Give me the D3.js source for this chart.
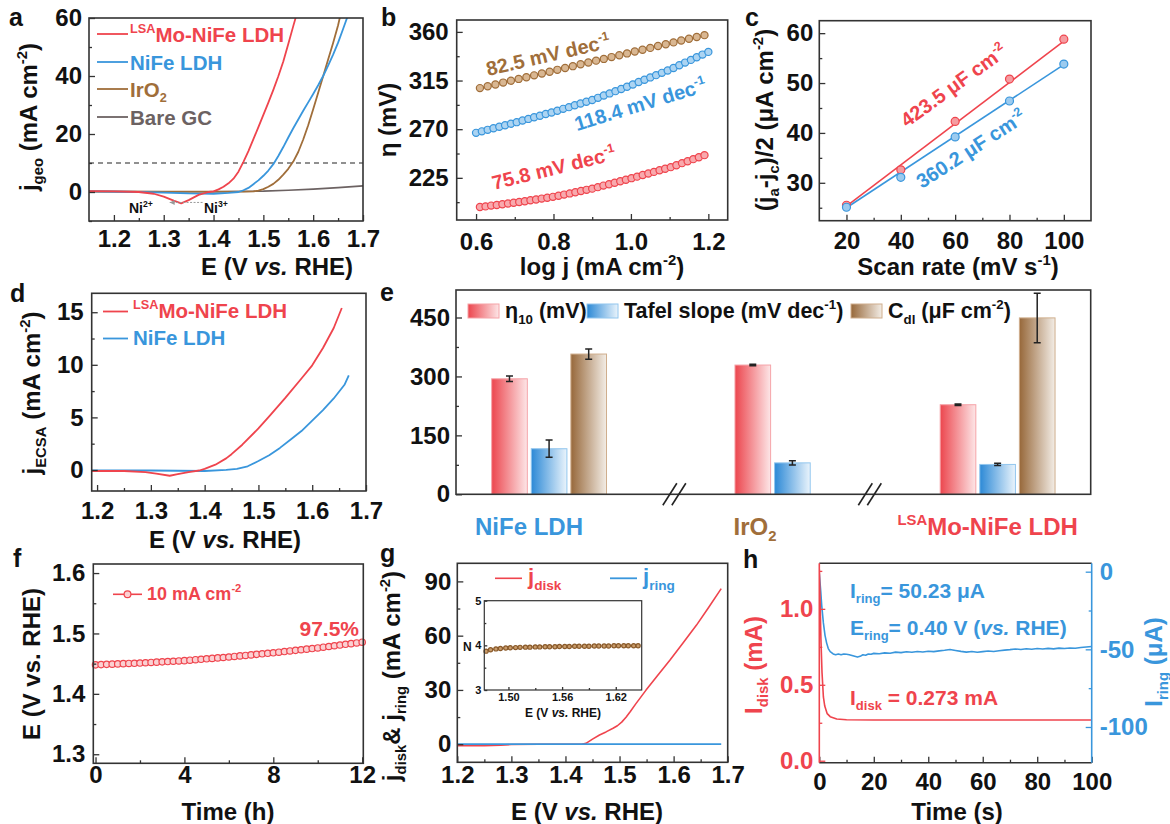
<!DOCTYPE html>
<html><head><meta charset="utf-8">
<script src="https://cdn.jsdelivr.net/npm/d3@7"></script>
<style>
body{margin:0;background:#fff}
svg{font-family:"Liberation Sans",Arial,sans-serif;font-weight:bold}
</style></head>
<body><svg id="fig" width="1170" height="824"></svg>
<script>
// ---------- data ----------
// a: LSV, j_geo vs E
var aMo = [[1.15,0.3],[1.20,0.2],[1.25,0.0],[1.28,-0.6],[1.30,-1.6],[1.32,-3.0],[1.335,-3.9],[1.35,-2.8],[1.37,-1.0],[1.39,0.0],[1.40,0.2],[1.41,0.9],[1.42,1.8],[1.43,3.0],[1.44,4.6],[1.45,7.0],[1.46,10.4],[1.47,14.1],[1.48,18.2],[1.49,22.4],[1.50,26.6],[1.51,30.8],[1.52,35.2],[1.53,39.9],[1.54,45.0],[1.55,51.0],[1.56,57.2],[1.568,62]]
var aNi = [[1.15,0.2],[1.25,0.0],[1.30,-0.2],[1.35,-0.5],[1.40,-0.6],[1.43,-0.3],[1.45,0.0],[1.46,0.6],[1.47,1.4],[1.48,2.7],[1.49,4.0],[1.50,5.6],[1.51,7.4],[1.52,9.6],[1.53,12.4],[1.54,15.5],[1.55,18.8],[1.56,22.0],[1.57,25.0],[1.58,28.0],[1.59,30.9],[1.60,33.8],[1.61,36.8],[1.62,40.0],[1.63,43.6],[1.64,47.4],[1.65,51.5],[1.66,56.2],[1.67,61],[1.673,62]]
var aIr = [[1.15,0.1],[1.30,0.1],[1.40,0.1],[1.46,0.1],[1.48,0.2],[1.49,0.5],[1.50,1.0],[1.51,1.8],[1.52,2.8],[1.53,4.2],[1.54,6.0],[1.55,8.0],[1.56,10.5],[1.57,13.8],[1.58,18.1],[1.59,23.0],[1.60,28.5],[1.61,34.2],[1.62,39.9],[1.63,45.7],[1.64,51.4],[1.65,57.5],[1.656,62]]
var aGC = [[1.15,0.2],[1.30,0.1],[1.40,0.1],[1.50,0.3],[1.55,0.6],[1.60,1.0],[1.65,1.5],[1.70,2.1]]
var aRef = 10

// b: Tafel plots (log j, eta)
var bIr = [[0.61,308.0],[0.63,309.7],[0.65,311.4],[0.67,313.1],[0.69,314.8],[0.71,316.5],[0.73,318.1],[0.75,319.8],[0.77,321.5],[0.79,323.2],[0.81,324.9],[0.83,326.6],[0.85,328.3],[0.87,330.0],[0.89,331.7],[0.91,333.4],[0.93,335.0],[0.95,336.7],[0.97,338.4],[0.99,340.1],[1.01,341.8],[1.03,343.5],[1.05,345.2],[1.07,346.9],[1.09,348.6],[1.11,350.3],[1.13,352.0],[1.15,353.6],[1.17,355.3],[1.19,357.0]]
var bNi = [[0.600,266.6],[0.615,268.0],[0.630,269.4],[0.645,270.8],[0.660,272.2],[0.675,273.6],[0.690,275.0],[0.705,276.5],[0.720,278.0],[0.735,279.5],[0.750,281.0],[0.765,282.5],[0.780,284.0],[0.795,285.5],[0.810,287.1],[0.825,288.8],[0.840,290.4],[0.855,292.1],[0.870,293.7],[0.885,295.4],[0.900,297.0],[0.915,299.0],[0.930,301.1],[0.945,303.1],[0.960,305.2],[0.975,307.2],[0.990,309.3],[1.005,311.4],[1.020,313.6],[1.035,315.7],[1.050,317.9],[1.065,320.0],[1.080,322.1],[1.095,324.3],[1.110,326.6],[1.125,329.1],[1.140,331.6],[1.155,334.1],[1.170,336.5],[1.185,339.0],[1.200,341.5]]
var bMo = [[0.610,198.0],[0.6245,198.6],[0.639,199.3],[0.6535,199.9],[0.668,200.6],[0.6825,201.2],[0.697,201.9],[0.7115,202.6],[0.726,203.4],[0.7405,204.2],[0.755,205.0],[0.7695,205.8],[0.784,206.6],[0.7985,207.4],[0.813,208.4],[0.8275,209.5],[0.842,210.6],[0.8565,211.7],[0.871,212.8],[0.8855,213.9],[0.900,215.0],[0.9145,216.4],[0.929,217.8],[0.9435,219.1],[0.958,220.5],[0.9725,221.9],[0.987,223.3],[1.0015,224.7],[1.016,226.1],[1.0305,227.6],[1.045,229.0],[1.0595,230.5],[1.074,232.0],[1.0885,233.4],[1.103,234.9],[1.1175,236.7],[1.132,238.6],[1.1465,240.4],[1.161,242.3],[1.1755,244.1],[1.190,246.0]]

// c: double-layer capacitance
var cRate = [20, 40, 60, 80, 100]
var cMo = [25.5, 32.6, 42.3, 50.8, 58.8]
var cNi = [25.1, 31.1, 39.2, 46.4, 53.8]
var cMoFit = [[20,25.3],[100,58.4]]
var cNiFit = [[20,25.0],[100,53.7]]

// d: ECSA-normalised LSV
var dMo = [[1.19,-0.1],[1.25,-0.1],[1.29,-0.2],[1.31,-0.35],[1.335,-0.55],[1.35,-0.4],[1.37,-0.2],[1.39,-0.05],[1.40,0.1],[1.42,0.5],[1.44,1.1],[1.45,1.5],[1.47,2.4],[1.50,3.95],[1.52,5.1],[1.55,6.85],[1.58,8.7],[1.60,9.95],[1.62,11.6],[1.64,13.5],[1.655,15.4]]
var dNi = [[1.19,-0.05],[1.30,-0.05],[1.40,-0.1],[1.44,0],[1.46,0.1],[1.48,0.35],[1.50,0.85],[1.52,1.4],[1.54,2.1],[1.56,2.9],[1.58,3.7],[1.60,4.7],[1.62,5.7],[1.64,6.8],[1.66,8.1],[1.668,9.0]]

// e: summary bars
var eGroups = ['NiFe LDH', 'IrO2', 'LSAMo-NiFe LDH']
var eEta = [294, 329, 228], eEtaErr = [7, 2, 2]
var eTafel = [116, 80, 76], eTafelErr = [22, 5.5, 3]
var eCdl = [357, null, 449], eCdlErr = [13, null, 63]

// f: chronopotentiometry (h, V)
var fE = [[0,1.448],[0.25,1.4484],[0.5,1.4488],[0.75,1.4492],[1,1.4496],[1.25,1.45],[1.5,1.4503],[1.75,1.4506],[2,1.451],[2.25,1.4515],[2.5,1.452],[2.75,1.4525],[3,1.453],[3.25,1.4535],[3.5,1.454],[3.75,1.4545],[4,1.455],[4.25,1.4557],[4.5,1.4565],[4.75,1.4572],[5,1.458],[5.25,1.4587],[5.5,1.4595],[5.75,1.4602],[6,1.461],[6.25,1.4619],[6.5,1.4628],[6.75,1.4636],[7,1.4645],[7.25,1.4654],[7.5,1.4663],[7.75,1.4671],[8,1.468],[8.25,1.469],[8.5,1.47],[8.75,1.471],[9,1.472],[9.25,1.473],[9.5,1.474],[9.75,1.475],[10,1.476],[10.25,1.4772],[10.5,1.4784],[10.75,1.4796],[11,1.4808],[11.25,1.482],[11.5,1.4831],[11.75,1.4843],[12,1.4855]]

// g: RRDE
var gDisk = [[1.20,-0.8],[1.25,-0.8],[1.28,-0.5],[1.30,-0.2],[1.35,0],[1.43,0],[1.438,0.5],[1.45,2.8],[1.463,5.1],[1.475,6.8],[1.488,8.8],[1.496,10.2],[1.504,12.2],[1.512,14.9],[1.520,18.1],[1.530,22.3],[1.540,26.3],[1.549,29.9],[1.57,37.9],[1.593,46.4],[1.617,55.8],[1.642,65.7],[1.665,75.7],[1.688,86]]
var gRing = [[1.20,0],[1.40,0],[1.60,0],[1.688,0]]
var gN = [[1.475,3.87],[1.480,3.90],[1.486,3.92],[1.491,3.93],[1.497,3.94],[1.502,3.945],[1.508,3.95],[1.513,3.955],[1.519,3.96],[1.524,3.96],[1.530,3.965],[1.535,3.965],[1.541,3.97],[1.546,3.97],[1.552,3.97],[1.557,3.975],[1.563,3.975],[1.568,3.975],[1.574,3.98],[1.579,3.98],[1.585,3.98],[1.590,3.98],[1.596,3.985],[1.601,3.985],[1.607,3.985],[1.612,3.985],[1.618,3.99],[1.623,3.99],[1.629,3.99],[1.634,3.99],[1.640,3.99],[1.645,3.99]]

// h: RRDE chronoamperometry
var hDisk = [[0,1.26],[0.3,1.05],[0.6,0.8],[1.0,0.58],[1.5,0.42],[2.0,0.36],[2.9,0.31],[4,0.29],[6.4,0.275],[10,0.27],[20,0.268],[40,0.268],[60,0.268],[80,0.268],[100,0.268]]
var hRing = [[0,-1],[0.5,-12],[0.9,-22],[1.5,-33],[2.1,-41],[2.7,-46],[3.3,-49.5],[4,-51.5],[5.1,-53],[6,-53.5],[7,-53],[8,-53.5],[9,-53],[10,-53.2],[11,-53.5],[12,-54],[13,-54.5],[14,-55],[15,-54.5],[16,-53.5],[17,-53.8],[18,-53],[19,-53.2],[20,-52.6],[22,-52.8],[24,-52.3],[26,-52.5],[28,-51.8],[30,-52.1],[32,-51.6],[34,-51.9],[36,-51.4],[38,-51.7],[40,-51.2],[42,-51.5],[44,-51],[46,-50.6],[48,-50.1],[50,-50.7],[52,-51.3],[54,-51.8],[56,-51.4],[58,-51.9],[60,-51.5],[62,-51.1],[64,-51.4],[66,-50.9],[68,-50.5],[70,-50.2],[72,-49.8],[74,-50.1],[76,-49.6],[78,-49.9],[80,-49.5],[82,-49.8],[84,-49.4],[86,-49.7],[88,-49.2],[90,-49.5],[92,-49.1],[94,-49.3],[96,-48.8],[98,-48.5],[100,-48.2]]

// ---------- drawing ----------
var RED = '#ef444d', BLUE = '#3996dc', BROWN = '#a06e3a', GREY = '#6c6262', INK = '#111'
var FT = 24, FA = 24   // tick font, axis title font

var svg = d3.select('#fig')
var defs = svg.append('defs')

function grad(id, c0, c1){
  var lg = defs.append('linearGradient').attr('id', id)
  lg.append('stop').attr('offset', '0%').attr('stop-color', c0)
  lg.append('stop').attr('offset', '100%').attr('stop-color', c1)
}
grad('gRed', '#ec464e', '#fde6e7')
grad('gBlue', '#2c89d6', '#eaf4fc')
grad('gBrown', '#97683a', '#f3ede6')

function clip(id, B){
  defs.append('clipPath').attr('id', id).append('rect')
    .attr('x', B.l).attr('y', B.t).attr('width', B.r - B.l).attr('height', B.b - B.t)
}

function frame(B, w){
  svg.append('rect').attr('x', B.l).attr('y', B.t).attr('width', B.r - B.l).attr('height', B.b - B.t)
    .attr('fill', 'none').attr('stroke', '#333').attr('stroke-width', w || 1.6)
}

function tickAxis(gen, tr, ticks, size, pad, fmt, fs, color){
  var a = svg.append('g').attr('transform', tr)
    .call(gen.tickValues(ticks).tickSize(size).tickPadding(pad).tickFormat(fmt))
  a.attr('font-family', null).attr('font-size', fs)
  a.select('.domain').remove()
  a.selectAll('line').attr('stroke', color || '#333').attr('stroke-width', 1.3)
  a.selectAll('text').attr('fill', color || INK)
  return a
}
var none = function(){ return '' }
function xAxis(x, B, major, minor, pad, fmt, o){
  o = o || {}
  var tr = 'translate(0,' + B.b + ')'
  tickAxis(d3.axisBottom(x), tr, minor, -(o.minor || 3), 0, none, FT)
  return tickAxis(d3.axisBottom(x), tr, major, -(o.major || 6), pad, fmt, o.fs || FT)
}
function yAxis(y, B, major, minor, pad, fmt, o){
  o = o || {}
  var tr = 'translate(' + B.l + ',0)'
  tickAxis(d3.axisLeft(y), tr, minor, -(o.minor || 3), 0, none, FT, o.color)
  return tickAxis(d3.axisLeft(y), tr, major, -(o.major || 6), pad, fmt, o.fs || FT, o.color)
}

function rich(sel, parts, fs){
  var off = 0
  parts.forEach(function(p){
    if (typeof p === 'string') p = {t: p}
    var target = p.sup ? -0.42 * fs : p.sub ? 0.26 * fs : 0
    var ts = sel.append('tspan').attr('dy', target - off).text(p.t)
    if (p.sup || p.sub) ts.attr('font-size', 0.62 * fs)
    if (p.i) ts.attr('font-style', 'italic')
    off = target
  })
  return sel
}
function label(x, y, parts, o){
  o = o || {}
  var fs = o.fs || FA
  var t = svg.append('text').attr('font-size', fs).attr('fill', o.fill || INK)
    .attr('text-anchor', o.anchor || 'start')
    .attr('transform', 'translate(' + x + ',' + y + ')' + (o.rot ? ' rotate(' + o.rot + ')' : ''))
  return rich(t, parts, fs)
}

function curve(x, y, data, color, w, clipId){
  return svg.append('path').datum(data)
    .attr('d', d3.line().x(function(d){ return x(d[0]) }).y(function(d){ return y(d[1]) }))
    .attr('fill', 'none').attr('stroke', color).attr('stroke-width', w || 1.6)
    .attr('stroke-linejoin', 'round')
    .attr('clip-path', clipId ? 'url(#' + clipId + ')' : null)
}
function dots(x, y, data, stroke, fill, r){
  svg.append('g').selectAll('circle').data(data).join('circle')
    .attr('cx', function(d){ return x(d[0]) }).attr('cy', function(d){ return y(d[1]) })
    .attr('r', r || 3.5).attr('fill', fill).attr('stroke', stroke).attr('stroke-width', 1.2)
}

var f1 = d3.format('.1f'), f2 = d3.format('.2f'), fi = function(d){ return String(d) }
var vsRHE = ['E (V ', {t: 'vs.', i: 1}, ' RHE)']

// panel letters
;[['a',9,26],['b',381,26],['c',745,26],['d',10,302],['e',380,301],['f',13,567],['g',380,562],['h',743,568]]
  .forEach(function(p){ svg.append('text').attr('x', p[1]).attr('y', p[2]).attr('font-size', 25).attr('fill', INK).text(p[0]) })

// ===== a =====
var A = {l: 89, t: 18, r: 363, b: 221}
clip('clipA', A)
var ax = d3.scaleLinear().domain([1.15, 1.7]).range([A.l, A.r])
var ay = d3.scaleLinear().domain([-10, 60]).range([A.b, A.t])
svg.append('line').attr('x1', ax(1.15)).attr('x2', ax(1.7)).attr('y1', ay(aRef)).attr('y2', ay(aRef))
  .attr('stroke', '#222').attr('stroke-width', 1.2).attr('stroke-dasharray', '5,4')
curve(ax, ay, aGC, GREY, 1.6, 'clipA')
curve(ax, ay, aIr, BROWN, 1.8, 'clipA')
curve(ax, ay, aNi, BLUE, 1.8, 'clipA')
curve(ax, ay, aMo, RED, 1.8, 'clipA')
// Ni2+ <- Ni3+ annotation
svg.append('line').attr('x1', ax(1.378)).attr('x2', ax(1.312)).attr('y1', ay(-3.6)).attr('y2', ay(-3.6))
  .attr('stroke', '#999').attr('stroke-width', 1).attr('stroke-dasharray', '2,1.5')
svg.append('path').attr('d', 'M' + ax(1.312) + ',' + ay(-3.6) + 'l5,-2.5v5z').attr('fill', '#999')
label(129, 213, ['Ni', {t: '2+', sup: 1}], {fs: 14})
label(204, 213, ['Ni', {t: '3+', sup: 1}], {fs: 14})
xAxis(ax, A, [1.2,1.3,1.4,1.5,1.6,1.7], [1.25,1.35,1.45,1.55,1.65], 9, f1)
yAxis(ay, A, [0,20,40,60], [-10,10,30,50], 7, fi)
frame(A)
var aLegend = [
  {parts: [{t: 'LSA', sup: 1}, 'Mo-NiFe LDH'], c: RED, y: 35},
  {parts: ['NiFe LDH'], c: BLUE, y: 63},
  {parts: ['IrO', {t: '2', sub: 1}], c: BROWN, y: 90},
  {parts: ['Bare GC'], c: GREY, y: 118}
]
aLegend.forEach(function(d){
  svg.append('line').attr('x1', 97).attr('x2', 128).attr('y1', d.y - 1).attr('y2', d.y - 1).attr('stroke', d.c).attr('stroke-width', 1.8)
  label(130, d.y + 7, d.parts, {fs: 20.5, fill: d.c})
})
label(201, 275, vsRHE)
label(37, 117, ['j', {t: 'geo', sub: 1}, ' (mA cm', {t: '-2', sup: 1}, ')'], {rot: -90, anchor: 'middle'})

// ===== b =====
var Bb = {l: 456.7, t: 20, r: 727.7, b: 220}
var bx = d3.scaleLinear().domain([0.55, 1.25]).range([Bb.l, Bb.r])
var by = d3.scaleLinear().domain([186, 371]).range([Bb.b, Bb.t])
;[[bIr, BROWN, '#d9b792'], [bNi, BLUE, '#acd4f2'], [bMo, RED, '#f8a9ad']].forEach(function(s){
  curve(bx, by, s[0], s[1], 1.6)
  dots(bx, by, s[0], s[1], s[2], 3.6)
})
label(488, 76, ['82.5 mV dec', {t: '-1', sup: 1}], {fs: 20, fill: BROWN, rot: -13})
label(577, 131, ['118.4 mV dec', {t: '-1', sup: 1}], {fs: 20, fill: BLUE, rot: -17})
label(494, 190, ['75.8 mV dec', {t: '-1', sup: 1}], {fs: 20, fill: RED, rot: -14})
xAxis(bx, Bb, [0.6,0.8,1.0,1.2], [0.7,0.9,1.1], 13, f1)
yAxis(by, Bb, [225,270,315,360], [202.5,247.5,292.5,337.5], 8, fi)
frame(Bb)
label(602, 275, ['log j (mA cm', {t: '-2', sup: 1}, ')'], {anchor: 'middle'})
label(396, 120, ['η (mV)'], {rot: -90, anchor: 'middle'})

// ===== c =====
var C = {l: 819.3, t: 20.7, r: 1091, b: 220.7}
var cx = d3.scaleLinear().domain([10, 110]).range([C.l, C.r])
var cy = d3.scaleLinear().domain([22.4, 62.5]).range([C.b, C.t])
curve(cx, cy, cMoFit, RED, 1.6)
curve(cx, cy, cNiFit, BLUE, 1.6)
dots(cx, cy, cRate.map(function(r, i){ return [r, cMo[i]] }), RED, '#f59ca1', 4)
dots(cx, cy, cRate.map(function(r, i){ return [r, cNi[i]] }), BLUE, '#9ccbef', 4)
label(907, 128, ['423.5 μF cm', {t: '-2', sup: 1}], {fs: 20, fill: RED, rot: -36})
label(922, 189, ['360.2 μF cm', {t: '-2', sup: 1}], {fs: 20, fill: BLUE, rot: -33})
xAxis(cx, C, [20,40,60,80,100], [30,50,70,90], 11, fi)
yAxis(cy, C, [30,40,50,60], [25,35,45,55], 6, fi)
frame(C)
label(958, 275, ['Scan rate (mV s', {t: '-1', sup: 1}, ')'], {anchor: 'middle'})
label(773, 120, ['(j', {t: 'a', sub: 1}, '-j', {t: 'c', sub: 1}, ')/2 (μA cm', {t: '-2', sup: 1}, ')'], {rot: -90, anchor: 'middle'})

// ===== d =====
var D = {l: 91.7, t: 293.3, r: 366, b: 491}
var dx = d3.scaleLinear().domain([1.19, 1.7]).range([D.l, D.r])
var dy = d3.scaleLinear().domain([-2, 16.8]).range([D.b, D.t])
curve(dx, dy, dNi, BLUE, 1.8)
curve(dx, dy, dMo, RED, 1.8)
xAxis(dx, D, [1.2,1.3,1.4,1.5,1.6,1.7], [1.25,1.35,1.45,1.55,1.65], 11, f1)
yAxis(dy, D, [0,5,10,15], [2.5,7.5,12.5], 8, fi)
frame(D)
svg.append('line').attr('x1', 103).attr('x2', 128).attr('y1', 311.5).attr('y2', 311.5).attr('stroke', RED).attr('stroke-width', 1.8)
label(133, 318, [{t: 'LSA', sup: 1}, 'Mo-NiFe LDH'], {fs: 20.5, fill: RED})
svg.append('line').attr('x1', 103).attr('x2', 128).attr('y1', 338.5).attr('y2', 338.5).attr('stroke', BLUE).attr('stroke-width', 1.8)
label(133, 345, ['NiFe LDH'], {fs: 20.5, fill: BLUE})
label(225, 548, vsRHE, {anchor: 'middle'})
label(40, 393, ['j', {t: 'ECSA', sub: 1}, ' (mA cm', {t: '-2', sup: 1}, ')'], {rot: -90, anchor: 'middle'})

// ===== e =====
var E = {l: 456, t: 290, r: 1090.7, b: 494.3}
var ex = d3.scaleLinear().domain([0, 3]).range([E.l, E.r])
var ey = d3.scaleLinear().domain([0, 520]).range([E.b, E.t])
var eCenter = {'NiFe LDH': 0.44, 'IrO2': 1.59, 'LSAMo-NiFe LDH': 2.56}
var eLabelAt = {'NiFe LDH': 0.345, 'IrO2': 1.413, 'LSAMo-NiFe LDH': 2.513}
var eInner = d3.scaleBand().domain(['eta', 'tafel', 'cdl']).range([-59.4, 59.4]).paddingInner(0.1).paddingOuter(0.05)
var eSeries = [
  {key: 'eta', v: eEta, err: eEtaErr, fill: 'url(#gRed)', stroke: '#f5a3a8'},
  {key: 'tafel', v: eTafel, err: eTafelErr, fill: 'url(#gBlue)', stroke: '#92c6ee'},
  {key: 'cdl', v: eCdl, err: eCdlErr, fill: 'url(#gBrown)', stroke: '#cfae8d'}
]
eSeries.forEach(function(s){
  eGroups.forEach(function(g, i){
    if (s.v[i] == null) return
    var x0 = ex(eCenter[g]) + eInner(s.key), w = eInner.bandwidth()
    svg.append('rect').attr('x', x0).attr('y', ey(s.v[i])).attr('width', w).attr('height', ey(0) - ey(s.v[i]))
      .attr('fill', s.fill).attr('stroke', s.stroke).attr('stroke-width', 1)
    var cxm = x0 + w / 2, lo = ey(s.v[i] - s.err[i]), hi = ey(s.v[i] + s.err[i])
    svg.append('path').attr('d', 'M' + (cxm - 3.5) + ',' + hi + 'h7M' + cxm + ',' + hi + 'V' + lo + 'M' + (cxm - 3.5) + ',' + lo + 'h7')
      .attr('stroke', '#222').attr('stroke-width', 1.5).attr('fill', 'none')
  })
})
yAxis(ey, E, [0,150,300,450], [75,225,375], 6, fi)
frame(E)
// axis breaks
;[1.032, 1.956].forEach(function(b){
  var xb = ex(b)
  ;[-4.5, 4.5].forEach(function(o){
    svg.append('line').attr('x1', xb + o - 7).attr('y1', E.b + 11).attr('x2', xb + o + 7).attr('y2', E.b - 11)
      .attr('stroke', '#222').attr('stroke-width', 1.6)
  })
})
var eLegend = [
  {x: 468, fill: 'url(#gRed)', stroke: '#f5a3a8', parts: ['η', {t: '10', sub: 1}, ' (mV)']},
  {x: 587, fill: 'url(#gBlue)', stroke: '#92c6ee', parts: ['Tafel slope (mV dec', {t: '-1', sup: 1}, ')']},
  {x: 851, fill: 'url(#gBrown)', stroke: '#cfae8d', parts: ['C', {t: 'dl', sub: 1}, ' (μF cm', {t: '-2', sup: 1}, ')']}
]
eLegend.forEach(function(d){
  svg.append('rect').attr('x', d.x).attr('y', 304).attr('width', 31).attr('height', 14).attr('fill', d.fill).attr('stroke', d.stroke)
  label(d.x + 37, 318, d.parts, {fs: 21.5})
})
label(ex(eLabelAt['NiFe LDH']), 535, ['NiFe LDH'], {anchor: 'middle', fill: BLUE})
label(ex(eLabelAt['IrO2']), 535, ['IrO', {t: '2', sub: 1}], {anchor: 'middle', fill: BROWN})
label(ex(eLabelAt['LSAMo-NiFe LDH']), 535, [{t: 'LSA', sup: 1}, 'Mo-NiFe LDH'], {anchor: 'middle', fill: RED})

// ===== f =====
var F = {l: 93.3, t: 564, r: 363.3, b: 763.3}
var fx = d3.scaleLinear().domain([-0.1, 12.05]).range([F.l, F.r])
var fy = d3.scaleLinear().domain([1.285, 1.615]).range([F.b, F.t])
curve(fx, fy, fE, RED, 1.5)
dots(fx, fy, fE, RED, '#fbd0d2', 3.2)
xAxis(fx, F, [0,4,8,12], [2,6,10], 3, fi)
yAxis(fy, F, [1.3,1.4,1.5,1.6], [1.35,1.45,1.55], 8, f1)
frame(F)
svg.append('line').attr('x1', 113).attr('x2', 142).attr('y1', 594.3).attr('y2', 594.3).attr('stroke', RED).attr('stroke-width', 1.6)
svg.append('circle').attr('cx', 127.5).attr('cy', 594.3).attr('r', 3.4).attr('fill', '#fbd0d2').attr('stroke', RED).attr('stroke-width', 1.2)
label(147, 600, ['10 mA cm', {t: '-2', sup: 1}], {fs: 18, fill: RED})
label(359, 636, ['97.5%'], {fs: 21, fill: RED, anchor: 'end'})
label(228, 820, ['Time (h)'], {anchor: 'middle'})
label(40, 664, ['E (V vs. RHE)'], {rot: -90, anchor: 'middle'})

// ===== g =====
var G = {l: 457.3, t: 563.3, r: 727.7, b: 762.3}
var gx = d3.scaleLinear().domain([1.2, 1.7]).range([G.l, G.r])
var gy = d3.scaleLinear().domain([-10, 100]).range([G.b, G.t])
curve(gx, gy, gDisk, RED, 1.6)
curve(gx, gy, gRing, BLUE, 1.8)
xAxis(gx, G, [1.2,1.3,1.4,1.5,1.6,1.7], [1.25,1.35,1.45,1.55,1.65], 4, f1)
yAxis(gy, G, [0,30,60,90], [15,45,75], 6, fi)
frame(G)
svg.append('line').attr('x1', 495).attr('x2', 522).attr('y1', 578.3).attr('y2', 578.3).attr('stroke', RED).attr('stroke-width', 1.6)
label(528, 584, ['j', {t: 'disk', sub: 1}], {fs: 22, fill: RED})
svg.append('line').attr('x1', 610).attr('x2', 637).attr('y1', 578.3).attr('y2', 578.3).attr('stroke', BLUE).attr('stroke-width', 1.8)
label(643, 584, ['j', {t: 'ring', sub: 1}], {fs: 22, fill: BLUE})
// inset: electron transfer number
var GI = {l: 484.3, t: 600.7, r: 641.7, b: 690}
var gix = d3.scaleLinear().domain([1.473, 1.649]).range([GI.l, GI.r])
var giy = d3.scaleLinear().domain([3, 5]).range([GI.b, GI.t])
svg.append('rect').attr('x', GI.l).attr('y', GI.t).attr('width', GI.r - GI.l).attr('height', GI.b - GI.t).attr('fill', '#fff')
curve(gix, giy, gN, BROWN, 1.2)
dots(gix, giy, gN, '#8a5a2a', '#c89c6c', 2.1)
xAxis(gix, GI, [1.50,1.56,1.62], [1.53,1.59], 3, f2, {fs: 11, major: 3, minor: 2})
yAxis(giy, GI, [3,4,5], [3.5,4.5], 3, fi, {fs: 11, major: 3, minor: 2})
frame(GI, 1.2)
label(463, 651, ['N'], {fs: 12})
label(563, 717, vsRHE, {fs: 12, anchor: 'middle'})
label(587, 820, vsRHE, {anchor: 'middle'})
label(400, 676, ['j', {t: 'disk', sub: 1}, '& j', {t: 'ring', sub: 1}, ' (mA cm', {t: '-2', sup: 1}, ')'], {rot: -90, anchor: 'middle'})

// ===== h =====
var H = {l: 819.3, t: 563.3, r: 1091.7, b: 762.7}
var hx = d3.scaleLinear().domain([0, 100]).range([H.l, H.r])
var hyL = d3.scaleLinear().domain([-0.013, 1.3]).range([H.b, H.t])
var hyR = d3.scaleLinear().domain([-123, 5.4]).range([H.b, H.t])
clip('clipH', H)
curve(hx, hyR, hRing, BLUE, 1.6, 'clipH')
curve(hx, hyL, hDisk, RED, 1.6, 'clipH')
xAxis(hx, H, [0,20,40,60,80,100], [10,30,50,70,90], 10, fi)
yAxis(hyL, H, [0,0.5,1.0], [0.25,0.75,1.25], 6, f1, {color: RED})
tickAxis(d3.axisRight(hyR), 'translate(' + H.r + ',0)', [-25,-75], -3, 0, none, FT, BLUE)
tickAxis(d3.axisRight(hyR), 'translate(' + H.r + ',0)', [0,-50,-100], -6, 8, fi, FT, BLUE)
svg.append('line').attr('x1', H.l).attr('x2', H.r).attr('y1', H.t).attr('y2', H.t).attr('stroke', '#333').attr('stroke-width', 1.6)
svg.append('line').attr('x1', H.l).attr('x2', H.r).attr('y1', H.b).attr('y2', H.b).attr('stroke', '#333').attr('stroke-width', 1.6)
svg.append('line').attr('x1', H.l).attr('x2', H.l).attr('y1', H.t).attr('y2', H.b).attr('stroke', RED).attr('stroke-width', 1.6)
svg.append('line').attr('x1', H.r).attr('x2', H.r).attr('y1', H.t).attr('y2', H.b).attr('stroke', BLUE).attr('stroke-width', 1.6)
label(850, 598, ['I', {t: 'ring', sub: 1}, '= 50.23 μA'], {fs: 21, fill: BLUE})
label(850, 635, ['E', {t: 'ring', sub: 1}, '= 0.40 V (', {t: 'vs.', i: 1}, ' RHE)'], {fs: 21, fill: BLUE})
label(850, 705, ['I', {t: 'disk', sub: 1}, ' = 0.273 mA'], {fs: 21, fill: RED})
label(957, 820, ['Time (s)'], {anchor: 'middle'})
label(762, 665, ['I', {t: 'disk', sub: 1}, ' (mA)'], {rot: -90, anchor: 'middle', fill: RED})
label(1162, 662, ['I', {t: 'ring', sub: 1}, ' (μA)'], {rot: -90, anchor: 'middle', fill: BLUE})
</script>
</body></html>
